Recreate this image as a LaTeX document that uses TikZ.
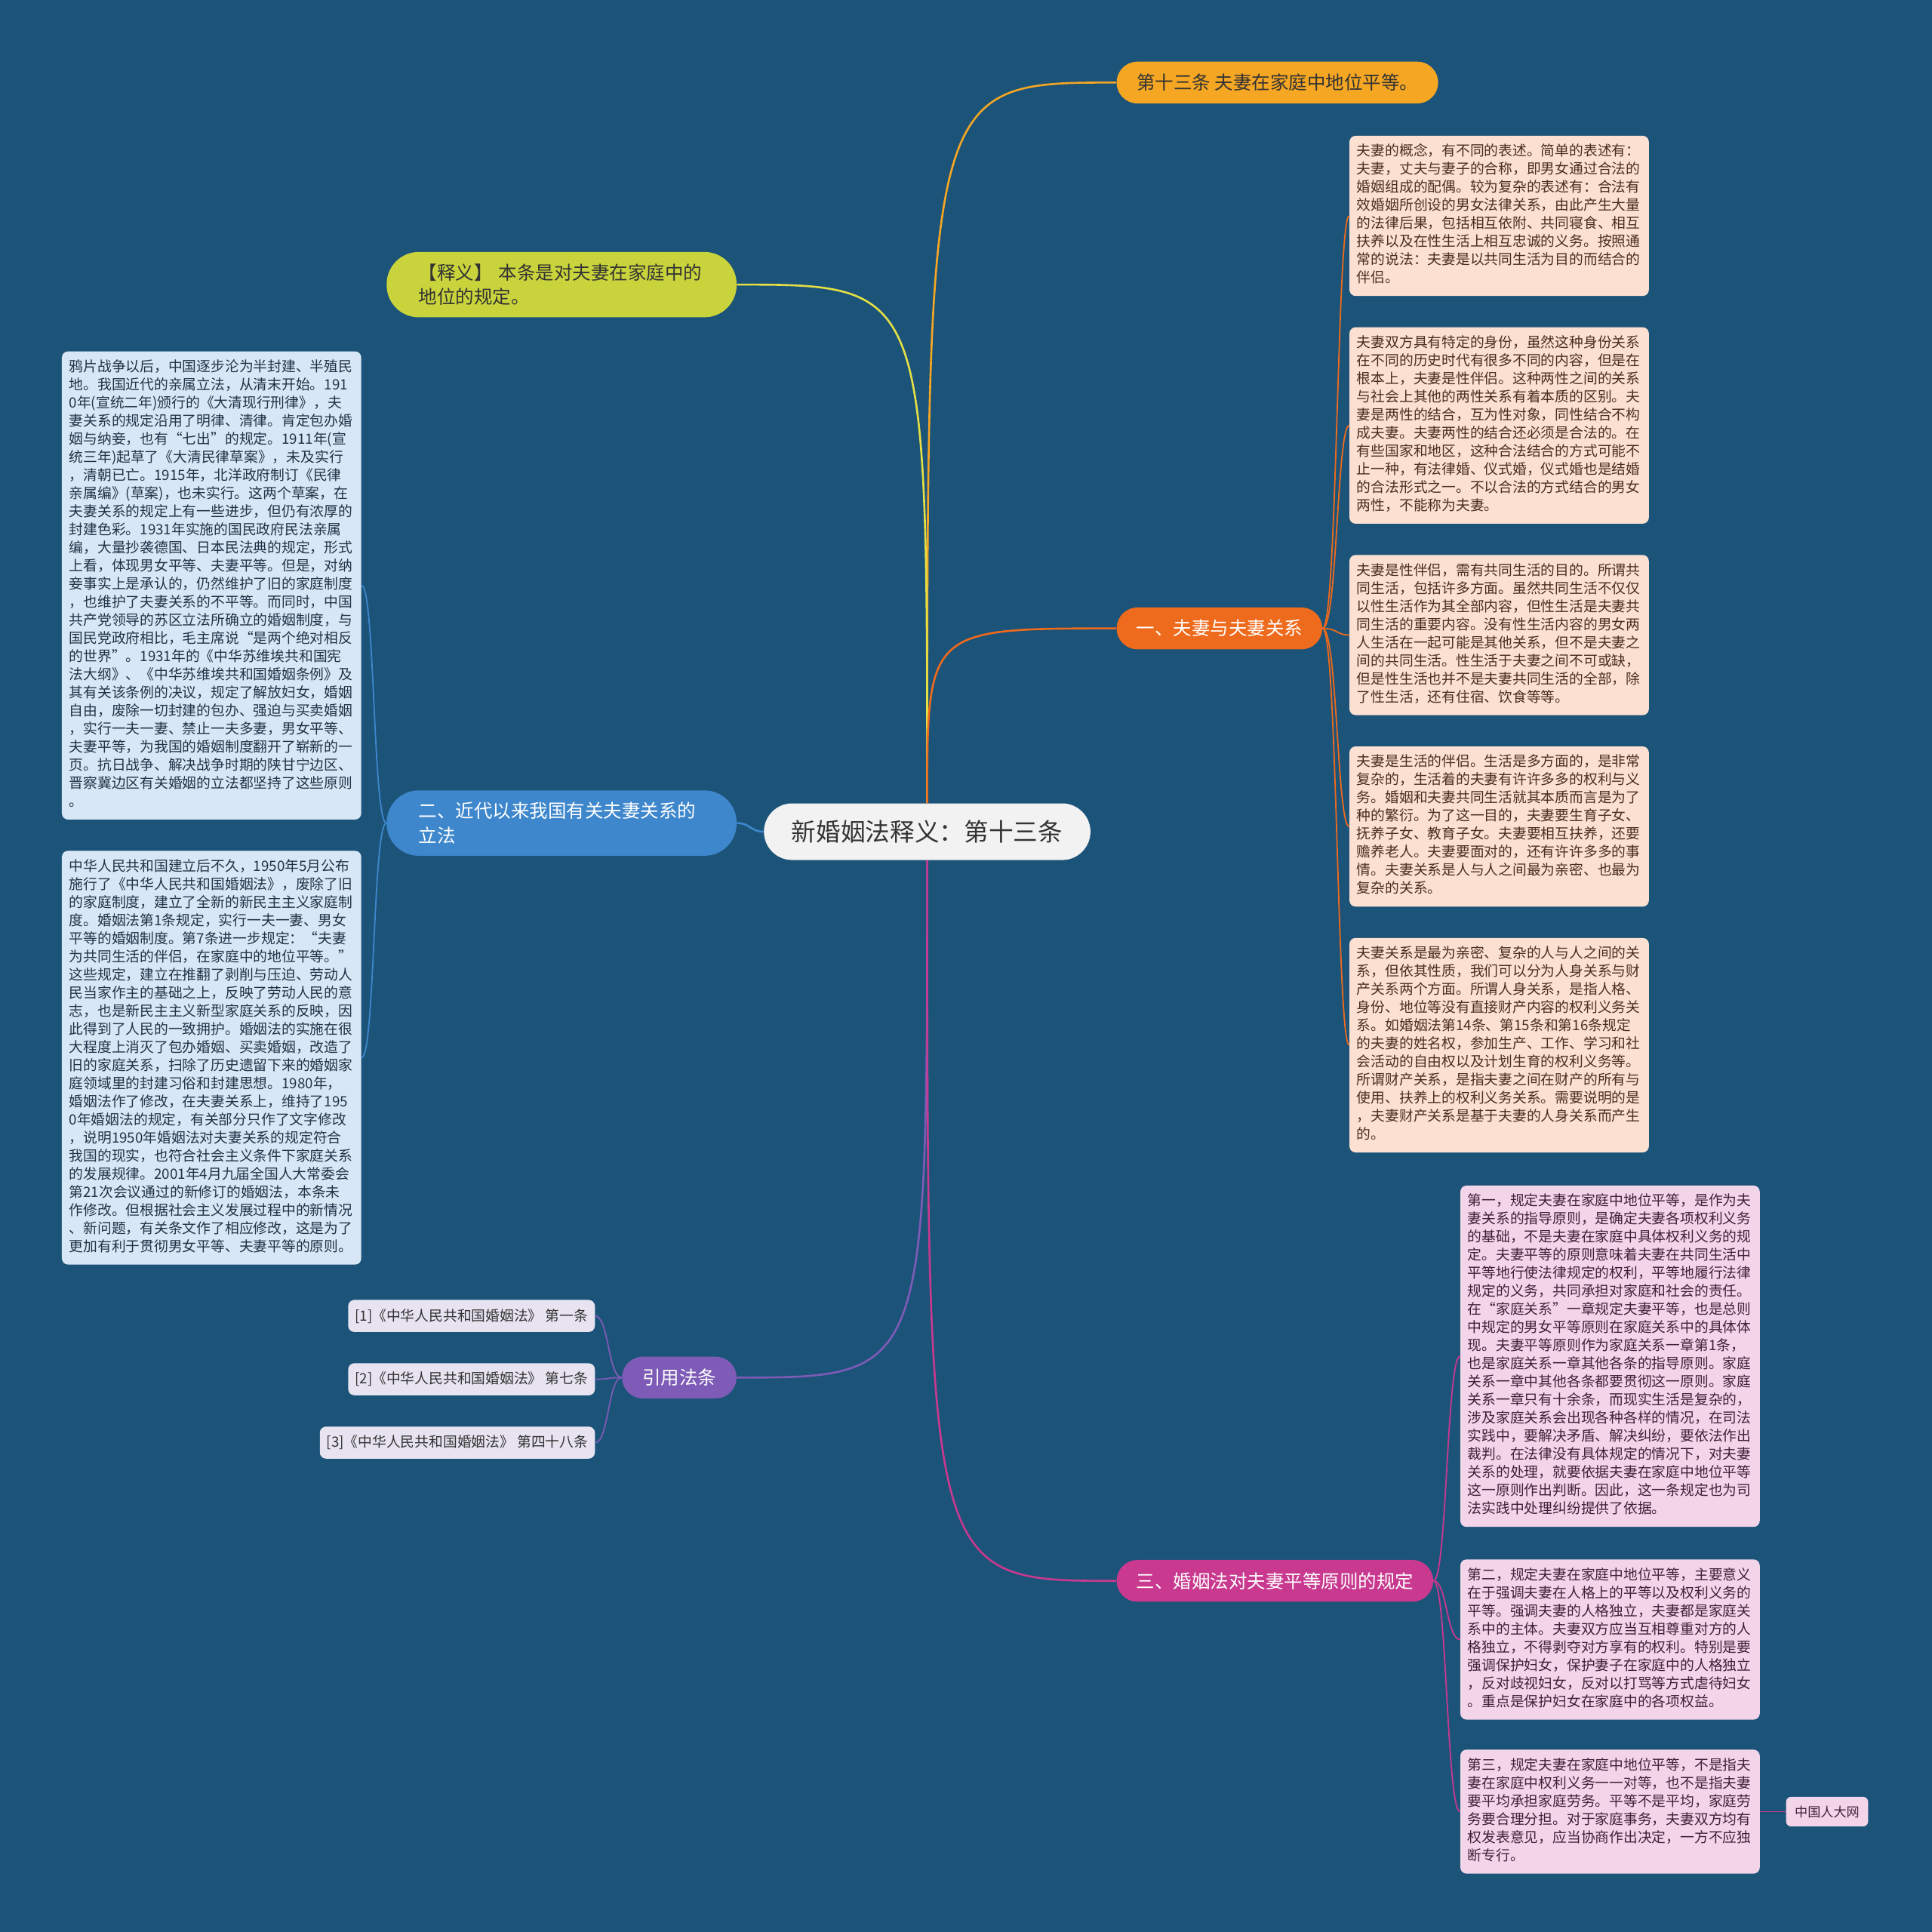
\documentclass[tikz,border=0pt]{standalone}
\usepackage{fontspec}
\setmainfont{Noto Sans CJK SC}
\usepackage{tikz}
\usetikzlibrary{positioning}
\definecolor{bgblue}{HTML}{1C5379}
\definecolor{cCore}{HTML}{F2F2F2}
\definecolor{cArt}{HTML}{F5A623}
\definecolor{cNote}{HTML}{C9D43C}
\definecolor{cNoteLn}{HTML}{E4DF45}
\definecolor{cRel}{HTML}{EE6A1C}
\definecolor{cHist}{HTML}{3E87CC}
\definecolor{cCite}{HTML}{7D5BB6}
\definecolor{cRule}{HTML}{C8398F}
\definecolor{fRel}{HTML}{FCE0D1}
\definecolor{fHist}{HTML}{D8E7F5}
\definecolor{fRule}{HTML}{F3D5EA}
\definecolor{fCite}{HTML}{E7E3F1}
\definecolor{inkDark}{HTML}{333333}
\definecolor{inkRel}{HTML}{4B2E1E}
\definecolor{inkHist}{HTML}{1F3347}
\definecolor{inkRule}{HTML}{3E2038}

\begin{document}
\begin{tikzpicture}[x=1pt, y=-1pt,
    core/.style={rounded corners=23pt, fill=cCore, text=inkDark,
                 minimum width=265pt, minimum height=46pt,
                 font=\fontsize{20}{24}\selectfont},
    topic/.style={rounded corners=17pt, minimum height=34pt, inner xsep=14pt,
                  font=\fontsize{15}{20}\selectfont, text=white},
    topic2/.style={rounded corners=26pt, minimum height=53pt, inner xsep=26pt,
                   text width=232pt, align=left,
                   font=\fontsize{15}{20}\selectfont},
    leaf/.style={rounded corners=5pt, align=left, text width=231pt,
                 inner xsep=6pt, inner ysep=6.2pt,
                 font=\fontsize{11.5}{14.7}\selectfont,
                 execute at begin node=\strut, execute at end node=\strut},
    relleaf/.style={leaf, fill=fRel, text=inkRel},
    histleaf/.style={leaf, fill=fHist, text=inkHist},
    ruleleaf/.style={leaf, fill=fRule, text=inkRule},
    citebox/.style={rounded corners=5pt, fill=fCite, text=inkDark,
                    minimum height=26pt, inner xsep=5.5pt,
                    font=\fontsize{11.5}{14}\selectfont},
    srcbox/.style={rounded corners=4pt, fill=fRule, text=inkRule,
                   minimum height=24pt, inner xsep=7pt,
                   font=\fontsize{10.5}{12}\selectfont},
    br/.style={line width=1.6pt},
    tw/.style={line width=1.1pt},
  ]
    \fill[bgblue] (0,0) rectangle (1568,1568);
    \useasboundingbox (0,0) rectangle (1568,1568);

    % centre and first level
    \node[core] (core) at (752.5,675) {新婚姻法释义：第十三条};
    \node[topic, fill=cArt, text=inkDark, anchor=west, minimum width=261pt]
       (art) at (906,67) {第十三条 夫妻在家庭中地位平等。};
    \node[topic, fill=cRel, anchor=west, minimum width=167pt]
       (rel) at (906,510) {一、夫妻与夫妻关系};
    \node[topic, fill=cRule, anchor=west, minimum width=257pt]
       (rule) at (906,1283) {三、婚姻法对夫妻平等原则的规定};
    \node[topic2, fill=cNote, text=inkDark, anchor=east]
       (note) at (598,231) {【释义】 本条是对夫妻在家庭中的\\地位的规定。};
    \node[topic2, fill=cHist, text=white, anchor=east]
       (hist) at (598,668) {二、近代以来我国有关夫妻关系的\\立法};
    \node[topic, fill=cCite, anchor=east, minimum width=93pt]
       (cite) at (598,1118) {引用法条};

    \draw[br, cArt] (core.north) .. controls (752.5,67) .. (art.west);
    \draw[br, cNoteLn] (core.north) .. controls (752.5,231) .. (note.east);
    \draw[br, cRel] (core.north) .. controls (752.5,510) .. (rel.west);
    \draw[br, cHist] (core.west) .. controls (609,675) and (609,668) .. (hist.east);
    \draw[br, cCite] (core.south) .. controls (752.5,1118) .. (cite.east);
    \draw[br, cRule] (core.south) .. controls (752.5,1283) .. (rule.west);

    % 一、夫妻与夫妻关系
    \node[relleaf, anchor=north west] (r1) at (1095,110)
      {夫妻的概念，有不同的表述。简单的表述有：\\
       夫妻，丈夫与妻子的合称，即男女通过合法的\\
       婚姻组成的配偶。较为复杂的表述有：合法有\\
       效婚姻所创设的男女法律关系，由此产生大量\\
       的法律后果，包括相互依附、共同寝食、相互\\
       扶养以及在性生活上相互忠诚的义务。按照通\\
       常的说法：夫妻是以共同生活为目的而结合的\\
       伴侣。};
    \node[relleaf, below=25pt of r1] (r2)
      {夫妻双方具有特定的身份，虽然这种身份关系\\
       在不同的历史时代有很多不同的内容，但是在\\
       根本上，夫妻是性伴侣。这种两性之间的关系\\
       与社会上其他的两性关系有着本质的区别。夫\\
       妻是两性的结合，互为性对象，同性结合不构\\
       成夫妻。夫妻两性的结合还必须是合法的。在\\
       有些国家和地区，这种合法结合的方式可能不\\
       止一种，有法律婚、仪式婚，仪式婚也是结婚\\
       的合法形式之一。不以合法的方式结合的男女\\
       两性，不能称为夫妻。};
    \node[relleaf, below=25pt of r2] (r3)
      {夫妻是性伴侣，需有共同生活的目的。所谓共\\
       同生活，包括许多方面。虽然共同生活不仅仅\\
       以性生活作为其全部内容，但性生活是夫妻共\\
       同生活的重要内容。没有性生活内容的男女两\\
       人生活在一起可能是其他关系，但不是夫妻之\\
       间的共同生活。性生活于夫妻之间不可或缺，\\
       但是性生活也并不是夫妻共同生活的全部，除\\
       了性生活，还有住宿、饮食等等。};
    \node[relleaf, below=25pt of r3] (r4)
      {夫妻是生活的伴侣。生活是多方面的，是非常\\
       复杂的，生活着的夫妻有许许多多的权利与义\\
       务。婚姻和夫妻共同生活就其本质而言是为了\\
       种的繁衍。为了这一目的，夫妻要生育子女、\\
       抚养子女、教育子女。夫妻要相互扶养，还要\\
       赡养老人。夫妻要面对的，还有许许多多的事\\
       情。夫妻关系是人与人之间最为亲密、也最为\\
       复杂的关系。};
    \node[relleaf, below=25pt of r4] (r5)
      {夫妻关系是最为亲密、复杂的人与人之间的关\\
       系，但依其性质，我们可以分为人身关系与财\\
       产关系两个方面。所谓人身关系，是指人格、\\
       身份、地位等没有直接财产内容的权利义务关\\
       系。如婚姻法第14条、第15条和第16条规定\\
       的夫妻的姓名权，参加生产、工作、学习和社\\
       会活动的自由权以及计划生育的权利义务等。\\
       所谓财产关系，是指夫妻之间在财产的所有与\\
       使用、扶养上的权利义务关系。需要说明的是\\
       ，夫妻财产关系是基于夫妻的人身关系而产生\\
       的。};
    \foreach \b in {r1,r2,r3,r4,r5}
      \draw[tw, cRel] (rel.east) .. controls +(12,0) and +(-10,0) .. (\b.west);

    % 二、近代以来
    \node[histleaf, anchor=north west] (h1) at (50,285)
      {鸦片战争以后，中国逐步沦为半封建、半殖民\\
       地。我国近代的亲属立法，从清末开始。191\\
       0年(宣统二年)颁行的《大清现行刑律》，夫\\
       妻关系的规定沿用了明律、清律。肯定包办婚\\
       姻与纳妾，也有“七出”的规定。1911年(宣\\
       统三年)起草了《大清民律草案》，未及实行\\
       ，清朝已亡。1915年，北洋政府制订《民律\\
       亲属编》(草案)，也未实行。这两个草案，在\\
       夫妻关系的规定上有一些进步，但仍有浓厚的\\
       封建色彩。1931年实施的国民政府民法亲属\\
       编，大量抄袭德国、日本民法典的规定，形式\\
       上看，体现男女平等、夫妻平等。但是，对纳\\
       妾事实上是承认的，仍然维护了旧的家庭制度\\
       ，也维护了夫妻关系的不平等。而同时，中国\\
       共产党领导的苏区立法所确立的婚姻制度，与\\
       国民党政府相比，毛主席说“是两个绝对相反\\
       的世界”。1931年的《中华苏维埃共和国宪\\
       法大纲》、《中华苏维埃共和国婚姻条例》及\\
       其有关该条例的决议，规定了解放妇女，婚姻\\
       自由，废除一切封建的包办、强迫与买卖婚姻\\
       ，实行一夫一妻、禁止一夫多妻，男女平等、\\
       夫妻平等，为我国的婚姻制度翻开了崭新的一\\
       页。抗日战争、解决战争时期的陕甘宁边区、\\
       晋察冀边区有关婚姻的立法都坚持了这些原则\\
       。};
    \node[histleaf, below=25pt of h1] (h2)
      {中华人民共和国建立后不久，1950年5月公布\\
       施行了《中华人民共和国婚姻法》，废除了旧\\
       的家庭制度，建立了全新的新民主主义家庭制\\
       度。婚姻法第1条规定，实行一夫一妻、男女\\
       平等的婚姻制度。第7条进一步规定：“夫妻\\
       为共同生活的伴侣，在家庭中的地位平等。”\\
       这些规定，建立在推翻了剥削与压迫、劳动人\\
       民当家作主的基础之上，反映了劳动人民的意\\
       志，也是新民主主义新型家庭关系的反映，因\\
       此得到了人民的一致拥护。婚姻法的实施在很\\
       大程度上消灭了包办婚姻、买卖婚姻，改造了\\
       旧的家庭关系，扫除了历史遗留下来的婚姻家\\
       庭领域里的封建习俗和封建思想。1980年，\\
       婚姻法作了修改，在夫妻关系上，维持了195\\
       0年婚姻法的规定，有关部分只作了文字修改\\
       ，说明1950年婚姻法对夫妻关系的规定符合\\
       我国的现实，也符合社会主义条件下家庭关系\\
       的发展规律。2001年4月九届全国人大常委会\\
       第21次会议通过的新修订的婚姻法，本条未\\
       作修改。但根据社会主义发展过程中的新情况\\
       、新问题，有关条文作了相应修改，这是为了\\
       更加有利于贯彻男女平等、夫妻平等的原则。};
    \foreach \b in {h1,h2}
      \draw[tw, cHist] (hist.west) .. controls +(-11,0) and +(11,0) .. (\b.east);

    % 引用法条
    \node[citebox, anchor=east] (c1) at (483,1068) {[1]《中华人民共和国婚姻法》 第一条};
    \node[citebox, below=25pt of c1.south east, anchor=north east] (c2)
       {[2]《中华人民共和国婚姻法》 第七条};
    \node[citebox, below=25pt of c2.south east, anchor=north east] (c3)
       {[3]《中华人民共和国婚姻法》 第四十八条};
    \foreach \b in {c1,c2,c3}
      \draw[tw, cCite] (cite.west) .. controls +(-11,0) and +(11,0) .. (\b.east);

    % 三、婚姻法对夫妻平等原则的规定
    \node[ruleleaf, anchor=north west] (p1) at (1185,962)
      {第一，规定夫妻在家庭中地位平等，是作为夫\\
       妻关系的指导原则，是确定夫妻各项权利义务\\
       的基础，不是夫妻在家庭中具体权利义务的规\\
       定。夫妻平等的原则意味着夫妻在共同生活中\\
       平等地行使法律规定的权利，平等地履行法律\\
       规定的义务，共同承担对家庭和社会的责任。\\
       在“家庭关系”一章规定夫妻平等，也是总则\\
       中规定的男女平等原则在家庭关系中的具体体\\
       现。夫妻平等原则作为家庭关系一章第1条，\\
       也是家庭关系一章其他各条的指导原则。家庭\\
       关系一章中其他各条都要贯彻这一原则。家庭\\
       关系一章只有十余条，而现实生活是复杂的，\\
       涉及家庭关系会出现各种各样的情况，在司法\\
       实践中，要解决矛盾、解决纠纷，要依法作出\\
       裁判。在法律没有具体规定的情况下，对夫妻\\
       关系的处理，就要依据夫妻在家庭中地位平等\\
       这一原则作出判断。因此，这一条规定也为司\\
       法实践中处理纠纷提供了依据。};
    \node[ruleleaf, below=26pt of p1] (p2)
      {第二，规定夫妻在家庭中地位平等，主要意义\\
       在于强调夫妻在人格上的平等以及权利义务的\\
       平等。强调夫妻的人格独立，夫妻都是家庭关\\
       系中的主体。夫妻双方应当互相尊重对方的人\\
       格独立，不得剥夺对方享有的权利。特别是要\\
       强调保护妇女，保护妻子在家庭中的人格独立\\
       ，反对歧视妇女，反对以打骂等方式虐待妇女\\
       。重点是保护妇女在家庭中的各项权益。};
    \node[ruleleaf, below=24pt of p2] (p3)
      {第三，规定夫妻在家庭中地位平等，不是指夫\\
       妻在家庭中权利义务一一对等，也不是指夫妻\\
       要平均承担家庭劳务。平等不是平均，家庭劳\\
       务要合理分担。对于家庭事务，夫妻双方均有\\
       权发表意见，应当协商作出决定，一方不应独\\
       断专行。};
    \foreach \b in {p1,p2,p3}
      \draw[tw, cRule] (rule.east) .. controls +(11,0) and +(-11,0) .. (\b.west);
    \node[srcbox, right=21pt of p3] (src) {中国人大网};
    \draw[tw, cRule] (p3.east) -- (src.west);
\end{tikzpicture}
\end{document}
